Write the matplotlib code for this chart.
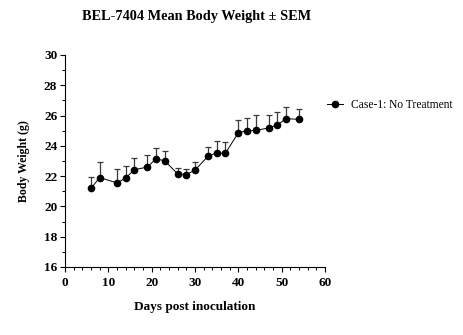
import numpy as np
import matplotlib.pyplot as plt
from matplotlib.ticker import MultipleLocator

# Body weight data (mean and SEM, grams) per measurement day
days = [6, 8, 12, 14, 16, 19, 21, 23, 26, 28, 30, 33, 35, 37, 40, 42, 44, 47, 49, 51, 54]
mean_weight = [21.2, 21.9, 21.55, 21.88, 22.42, 22.6, 23.14, 23.01, 22.15, 22.1, 22.4,
               23.31, 23.54, 23.5, 24.87, 24.98, 25.02, 25.18, 25.38, 25.79, 25.75]
sem_weight = [0.74, 1.0, 0.9, 0.78, 0.8, 0.8, 0.72, 0.66, 0.4, 0.35, 0.52,
              0.58, 0.76, 0.75, 0.86, 0.88, 1.0, 0.83, 0.85, 0.77, 0.68]

plt.rcParams['font.family'] = ['Liberation Serif', 'DejaVu Serif']

fig = plt.figure(figsize=(4.63, 3.35), dpi=100)
ax = fig.add_axes([0.1404, 0.203, 0.5616, 0.633])

# only upper error bars
yerr = [np.zeros(len(sem_weight)), sem_weight]
ax.errorbar(days, mean_weight, yerr=yerr, fmt='none',
            ecolor='#3a3a3a', elinewidth=0.9, capsize=2.5, capthick=0.9)
ax.plot(days, mean_weight, '-o', color='black', lw=0.7, markersize=4.5,
        label='Case-1: No Treatment')

ax.set_xlim(0, 60)
ax.set_ylim(16, 30)
ax.xaxis.set_major_locator(MultipleLocator(10))
ax.xaxis.set_minor_locator(MultipleLocator(2))
ax.yaxis.set_major_locator(MultipleLocator(2))
ax.yaxis.set_minor_locator(MultipleLocator(1))

for s in ['top', 'right']:
    ax.spines[s].set_visible(False)
for s in ['left', 'bottom']:
    ax.spines[s].set_linewidth(0.8)

ax.tick_params(which='major', direction='out', length=3.5, width=0.8, labelsize=9.5)
ax.tick_params(axis='x', which='major', pad=4)
ax.tick_params(axis='y', which='major', pad=2)
ax.tick_params(which='minor', direction='out', length=2, width=0.7)
for lbl in ax.get_xticklabels() + ax.get_yticklabels():
    lbl.set_fontweight('bold')

ax.set_xlabel('Days post inoculation', fontsize=9.5, fontweight='bold', labelpad=8)
ax.set_ylabel('Body Weight (g)', fontsize=8.5, fontweight='bold', labelpad=10)

fig.text(0.425, 0.95, 'BEL-7404 Mean Body Weight \u00b1 SEM', ha='center', va='center',
         fontsize=10.3, fontweight='bold')

ax.legend(loc='center left', bbox_to_anchor=(1.0, 0.765), frameon=False,
          fontsize=8.3, handlelength=1.4, handletextpad=0.7, borderpad=0, borderaxespad=0.15)

fig.savefig('out.png', dpi=100)
